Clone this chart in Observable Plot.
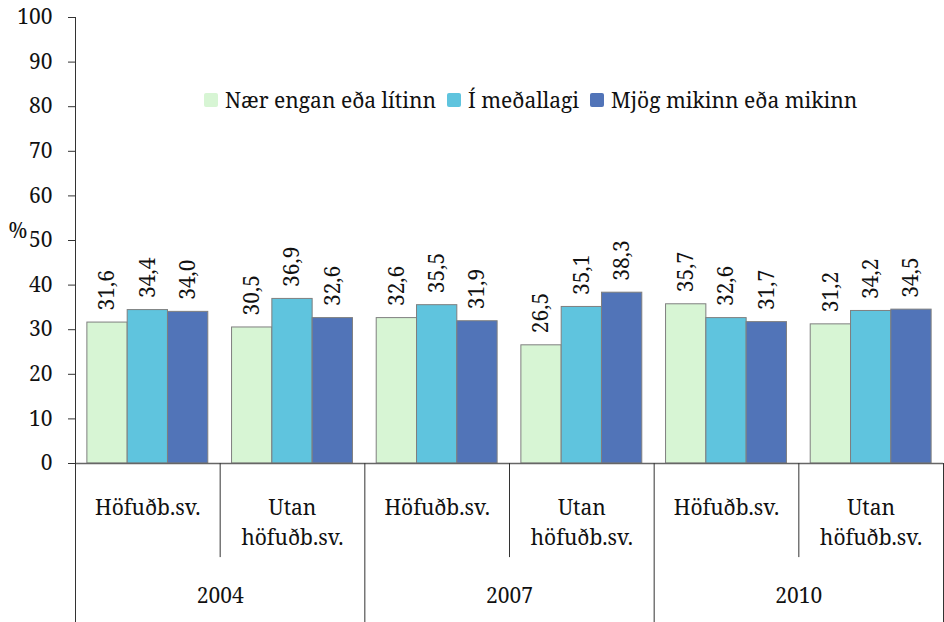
<!DOCTYPE html>
<html><head><meta charset="utf-8">
<script src="https://cdn.jsdelivr.net/npm/d3@7"></script>
<script src="https://cdn.jsdelivr.net/npm/@observablehq/plot@0.6"></script>
<style>
body{margin:0;background:#fff;}
#wrap{position:relative;width:944px;height:622px;}
#legend{position:absolute;left:204px;top:85px;display:flex;align-items:center;font-size:21px;color:#111;white-space:nowrap;line-height:30px;}
.item{display:flex;align-items:center;margin-right:11px;}
.sw{width:14px;height:14px;border-radius:2px;margin-right:7px;}
</style></head><body><div id="wrap"><div id="legend"></div></div>
<script>
const years = ["2004", "2007", "2010"];
const regions = ["Höfuðb.sv.", "Utan\nhöfuðb.sv."];
const series = ["Nær engan eða lítinn", "Í meðallagi", "Mjög mikinn eða mikinn"];
const lowValues  = [31.6, 30.5, 32.6, 26.5, 35.7, 31.2];
const midValues  = [34.4, 36.9, 35.5, 35.1, 32.6, 34.2];
const highValues = [34.0, 32.6, 31.9, 38.3, 31.7, 34.5];
const yTicks = [0, 10, 20, 30, 40, 50, 60, 70, 80, 90, 100];
const colors = ["#d7f5d4", "#5fc4de", "#5174b8"];

const seriesValues = [lowValues, midValues, highValues];
const groups = [];
years.forEach((yr, yi) => regions.forEach((rg, ri) => groups.push({year: yr, region: rg, gi: yi * 2 + ri})));
const rows = [];
series.forEach((s, si) => groups.forEach(g => rows.push({...g, series: s, si, value: seriesValues[si][g.gi]})));

const barFrac = 0.2786; // bar width as a fraction of a group
const bx1 = d => d.gi + 0.5 + (d.si - 1.5) * barFrac;
const bx2 = d => bx1(d) + barFrac;
const bxc = d => bx1(d) + barFrac / 2;
const fmt = v => d3.format(".1f")(v).replace(".", ",");

const innerDepth = -21.1, outerDepth = -36;
const FONT = "Noto Serif";
const T = {fontFamily: FONT, fontSize: 21, fill: "#111"};

const chart = Plot.plot({
  width: 944, height: 622,
  marginLeft: 75, marginRight: 1, marginTop: 17, marginBottom: 159,
  style: {fontFamily: FONT, fontSize: "21px", color: "#111", background: "#fff", overflow: "visible"},
  x: {type: "linear", domain: [0, 6], axis: null},
  y: {domain: [0, 100], axis: null},
  color: {domain: series, range: colors},
  marks: [
    Plot.axisY(yTicks, {tickSize: 7, tickPadding: 16, stroke: "#333", label: null, ...T}),
    Plot.rectY(rows, {x1: bx1, x2: bx2, y1: 0, y2: "value", fill: "series", stroke: "#7f7f7f", strokeWidth: 1}),
    Plot.text(rows, {x: bxc, y: "value", text: d => fmt(d.value), rotate: -90, textAnchor: "start", dy: -12, ...T}),
    Plot.ruleY([0], {x1: 0, x2: 6, stroke: "#666", strokeWidth: 1.5}),
    Plot.ruleX([1, 3, 5], {x: d => d, y1: 0, y2: innerDepth, stroke: "#333"}),
    Plot.ruleX([0, 2, 4, 6], {x: d => d, y1: d => d === 0 ? 100 : 0, y2: outerDepth, stroke: "#333"}),
    Plot.text(groups, {x: d => d.gi + 0.5, text: "region", frameAnchor: "bottom", lineAnchor: "top", dy: 30, lineHeight: 1.43, ...T}),
    Plot.text(years, {x: (d, i) => i * 2 + 1, text: d => d, frameAnchor: "bottom", lineAnchor: "top", dy: 125, ...T}),
    Plot.text(["%"], {frameAnchor: "top-left", textAnchor: "start", lineAnchor: "bottom", dx: -67, dy: 220, ...T})
  ]
});
document.getElementById("wrap").prepend(chart);

const legend = document.getElementById("legend");
legend.style.fontFamily = FONT;
series.forEach((s, i) => {
  const it = document.createElement("div"); it.className = "item";
  const sw = document.createElement("span"); sw.className = "sw"; sw.style.background = colors[i];
  const tx = document.createElement("span"); tx.textContent = s; tx.style.fontFamily = FONT;
  it.append(sw, tx); legend.append(it);
});
</script></body></html>
